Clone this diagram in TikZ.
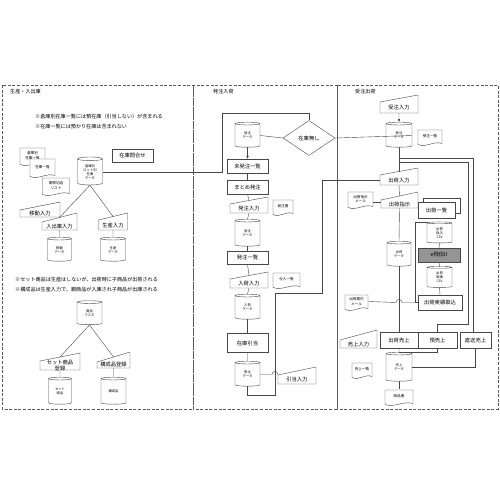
\documentclass[tikz,border=0pt]{standalone}
\usepackage{fontspec}
\setmainfont{Noto Sans CJK JP}
\usetikzlibrary{shapes.geometric,calc,arrows.meta}
\tikzset{
  ln/.style={draw=black!72, line width=0.4pt},
  arr/.style={ln, -{Latex[length=3pt,width=2.6pt]}},
  boxn/.style={draw=black!72, line width=0.4pt, fill=white, font=\fontsize{5.3}{6.2}\selectfont, inner sep=0pt, align=center},
  greybox/.style={boxn, fill=black!42},
  cyl/.style={cylinder, shape border rotate=90, aspect=0.28, draw=black!72, line width=0.4pt, fill=white, font=\fontsize{3.3}{4}\selectfont, inner sep=0pt, align=center},
  note/.style={font=\fontsize{5.1}{6}\selectfont, inner sep=0pt, anchor=west},
  docn/.style={inner sep=0pt, font=\fontsize{3.6}{4.3}\selectfont, align=center},
  trapn/.style={inner sep=0pt, font=\fontsize{5.3}{6.2}\selectfont, align=center},
  dia/.style={diamond, draw=black!72, line width=0.4pt, fill=white, inner sep=0pt, font=\fontsize{5.3}{6.2}\selectfont},
  panel/.style={draw=black!65, dash pattern=on 3pt off 1.6pt, line width=0.5pt},
}
% document: name cx cy w h text
\newcommand{\DocN}[6]{%
  \draw[ln, fill=white] ({#2-#4/2},{#3-#5/2}) -- ({#2+#4/2},{#3-#5/2}) -- ({#2+#4/2},{#3+#5/2-1.5})
    .. controls ({#2+#4/2-0.35*#4},{#3+#5/2-4.5}) and ({#2-#4/2+0.35*#4},{#3+#5/2+3}) .. ({#2-#4/2},{#3+#5/2-0.5}) -- cycle;
  \node[docn, minimum width=#4pt, minimum height=#5pt] (#1) at (#2,{#3-1}) {#6};
}
% manual input: name cx cy w h slant text
\newcommand{\TrapN}[7]{%
  \draw[ln, fill=white] ({#2-#4/2},{#3-#5/2+#6}) -- ({#2+#4/2},{#3-#5/2}) -- ({#2+#4/2},{#3+#5/2}) -- ({#2-#4/2},{#3+#5/2}) -- cycle;
  \coordinate (#1-t) at (#2,{#3-#5/2+#6/2});
  \node[trapn, minimum width=#4pt, minimum height={(#5-#6)*1pt}] (#1) at (#2,{#3+#6/2}) {#7};
}
\newcommand{\BoxN}[6]{\node[boxn, minimum width=#4pt, minimum height=#5pt] (#1) at (#2,#3) {#6};}
\newcommand{\CylN}[6]{\node[cyl, minimum width=#4pt, minimum height=#5pt] (#1) at (#2,#3) {#6};}
\begin{document}
\begin{tikzpicture}[x=1pt,y=-1pt]
\fill[white] (0,0) rectangle (500,500);
\useasboundingbox (0,0) rectangle (500,500);
% panels
\draw[panel] (2,85) rectangle (193,409);
\draw[panel] (193,85) rectangle (337,409);
\draw[panel] (337,85) rectangle (498,409);
\node[note] (tl) at (10,92) {生産・入出庫};
\node[note] (tm) at (213,92) {発注入荷};
\node[note] (tr) at (355,92) {受注出荷};

% ---------------- left panel
\node[note] (n1) at (35,117) {※倉庫別在庫一覧には預在庫（引当しない）が含まれる};
\node[note] (n2) at (35,127) {※在庫一覧には預かり在庫は含まれない};
\DocN{dwh}{32.5}{156.5}{25}{17}{倉庫別\\在庫一覧}
\DocN{dzk}{42.5}{168}{25}{18}{在庫一覧}
\DocN{dlim}{56}{186.5}{27}{17}{期限切迫\\リスト}
\CylN{cstock}{90}{172}{25}{28}{倉庫別\\ロット別\\在庫\\データ}
\BoxN{binq}{132.5}{155.5}{41}{13}{在庫問合せ}
\TrapN{tmove}{40}{209.5}{40}{15}{8}{移動入力}
\TrapN{tio}{59.5}{221.5}{35}{17}{9}{入出庫入力}
\TrapN{tprod}{113}{221.5}{29}{17}{7}{生産入力}
\CylN{cmove}{59.5}{250}{24}{24}{移動\\データ}
\CylN{cprod}{113}{250}{25}{24}{生産\\データ}
\draw[ln] (cstock.south) -- (tio-t);
\draw[ln] (cstock.south) -- (tprod-t);
\draw[ln] (tio.south) -- (cmove.north);
\draw[ln] (tprod.south) -- (cprod.north);

\node[note] (n3) at (15,280) {※セット商品は生産はしないが、出荷時に子商品が出荷される};
\node[note] (n4) at (15,290) {※構成品は生産入力で、親商品が入庫され子商品が出庫される};
\CylN{citem}{89.5}{313.5}{25}{24}{商品\\マスタ}
\TrapN{tset}{60}{361.5}{40}{17}{8}{セット商品\\登録}
\TrapN{tcomp}{113.5}{360}{33}{16}{10}{構成品登録}
\CylN{cset}{60}{391.5}{23}{27}{セット\\商品}
\CylN{ccomp}{113.5}{391.5}{25}{27}{構成品}
\draw[ln] (citem.south) -- (tset-t);
\draw[ln] (citem.south) -- (tcomp-t);
\draw[ln] (tset.south) -- (cset.north);
\draw[ln] (tcomp.south) -- (ccomp.north);

% ---------------- middle panel
\CylN{cpo1}{247.5}{135.5}{25}{25}{発注\\データ}
\node[dia, minimum width=52pt, minimum height=35pt] (dno) at (309,138) {在庫無し};
\BoxN{bunord}{247.5}{166}{41}{14}{未発注一覧}
\BoxN{bmatome}{247.5}{187}{41}{14}{まとめ発注}
\TrapN{tpo}{249}{205}{38}{16}{7}{発注入力}
\DocN{dpo}{283}{207.5}{20}{15}{発注書}
\CylN{cpo2}{247.5}{233.5}{25}{27}{発注\\データ}
\BoxN{bpolist}{247.5}{257.5}{41}{13}{発注一覧}
\TrapN{tarr}{249}{280}{38}{16}{7}{入荷入力}
\DocN{dpur}{286.5}{280.5}{27}{15}{仕入一覧}
\CylN{carr}{247.5}{307.5}{25}{25}{入荷\\データ}
\BoxN{balloc}{247.5}{343}{41}{19}{在庫引当}
\CylN{cord2}{247.5}{374.5}{25}{25}{受注\\データ}
\TrapN{thik}{297}{375.5}{38}{17}{8}{引当入力}

\draw[arr] (cpo1.south) -- (bunord.north);
\draw[ln] (bunord.south) -- (bmatome.north);
\draw[ln] (bmatome.south) -- (tpo-t);
\draw[ln] (tpo.south) -- (cpo2.north);
\draw[ln] (cpo2.south) -- (bpolist.north);
\draw[ln] (bpolist.south) -- (tarr-t);
\draw[ln] (tarr.south) -- (carr.north);
\draw[ln] (carr.south) -- (balloc.north);
\draw[ln] (balloc.south) -- (cord2.north);
\draw[ln] (cpo1.east) -- (dno.west);
\draw[ln] (dno.north) |- (222,113) |- (cstock.east);
\draw[ln] (cord2.east) -- (272,374.5) .. controls (272,370.5) and (278,370.5) .. (thik.west |- cord2.east);

% ---------------- right panel
\TrapN{tordin}{399}{104}{38}{18}{7}{受注入力}
\CylN{cord1}{399}{135.5}{26}{25}{受注\\データ}
\DocN{dordlist}{430}{137.5}{24}{15}{受注一覧}
\TrapN{tship}{399}{176.5}{38}{17}{7}{出荷入力}
\DocN{dshipmail}{360.5}{200}{25}{16}{出荷指示\\メール}
\TrapN{tshipinst}{399.5}{200}{37}{16}{8}{出荷指示}
\draw[ln, fill=white] (423,198) rectangle (460,213);
\BoxN{bshiplist}{436.5}{210}{37}{16}{出荷一覧}
\CylN{ccsv1}{439.5}{233}{25}{21}{出荷\\指示\\CSV}
\CylN{cshipdata}{399}{254.5}{24}{25}{出荷\\データ}
\node[greybox, minimum width=42pt, minimum height=14pt] (behiden) at (439,255) {e飛伝II};
\CylN{ccsv2}{439.5}{277.5}{25}{21}{出荷\\実績\\CSV}
\DocN{dannmail}{356.5}{302.5}{23}{15}{出荷案内\\メール}
\BoxN{bimport}{440}{302.5}{44}{15}{出荷実績取込}
\TrapN{tsalesin}{358.5}{339}{37}{18}{10}{売上入力}
\BoxN{bshipsales}{399}{340}{38}{16}{出荷売上}
\BoxN{bdepsales}{437.5}{340}{39}{16}{預売上}
\BoxN{bdirect}{475.5}{340}{31}{16}{直送売上}
\DocN{dsaleslist}{362}{370.5}{20}{15}{売上一覧}
\CylN{csales}{399}{367.5}{26}{29}{売上\\データ}
\DocN{dinvoice}{399}{397.5}{28}{15}{納品書}
\coordinate (csvin) at (428,222);

\draw[arr] (tordin.south) -- (cord1.north);
\draw[ln] (cord1.south) -- (tship-t);
\draw[ln] (tship.south) -- (tshipinst-t);
\draw[ln] (tshipinst.south) -- (cshipdata.north);
\draw[ln] (cshipdata.south) -- (bshipsales.north);
\draw[ln] (bshipsales.south) -- (csales.north);
\draw[ln] (csales.south) -- (dinvoice.north);
\draw[ln] (cord1.east) -- (dno.east);
\draw[ln] (tship.west) -| (322,293) -| (275,395) -| (cord2.south);
\draw[ln] (399,158) -- (473,158) -- (bdirect.north -| 473,0);
\draw[ln] (399,162) -- (468,162) -- (468,324) -| (bdepsales.north);
\draw[ln] (dshipmail.east |- 0,202) -- (tshipinst.west |- 0,202);
\draw[ln] (csvin) -- (415,222) |- (bimport.west);
\draw[ln] (ccsv1.south) -- (behiden.north);
\draw[ln] (behiden.south) -- (ccsv2.north);
\draw[ln] (ccsv2.south) -- (bimport.north);
\draw[ln] (dannmail.east) -- (396,302.5) .. controls (396,298.5) and (402,298.5) .. (402,302.5) -- (bimport.west);
\draw[ln] (bdepsales.south) |- (399,352);
\draw[ln] (bdirect.south) |- (csales.east);
\end{tikzpicture}
\end{document}
